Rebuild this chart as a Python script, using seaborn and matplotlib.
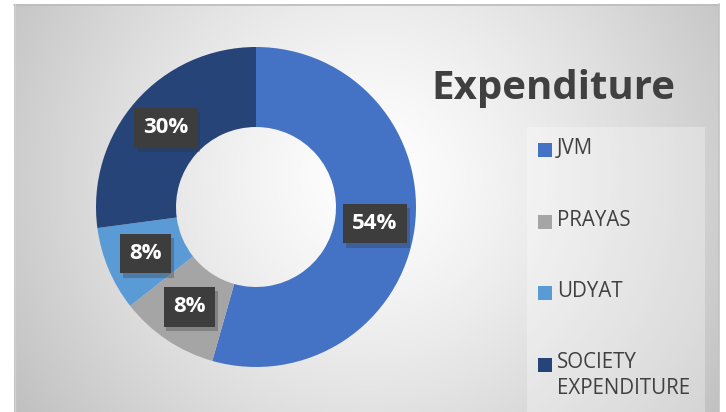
import numpy as np
import matplotlib.pyplot as plt
import matplotlib.patheffects as pe
from matplotlib.patches import Rectangle
import seaborn as sns

categories = ["JVM", "PRAYAS", "UDYAT", "SOCIETY\nEXPENDITURE"]
shares = [54.4, 10.0, 8.5, 27.1]
label_texts = ["54%", "8%", "8%", "30%"]
colors = sns.color_palette(["#4472C4", "#A5A5A5", "#5B9BD5", "#264478"])

sns.set_theme(style="white")
plt.rcParams['font.family'] = ['Open Sans', 'DejaVu Sans']

W, H = 726, 412
fig = plt.figure(figsize=(W / 100, H / 100), dpi=100)

# background panel with soft radial gradient
bg = fig.add_axes([0, 0, 1, 1])
yy, xx = np.mgrid[0:H, 0:W]
d = np.hypot(xx - 370, yy - 175) / 430
shade = 1 - 0.25 * np.clip(d, 0, 1) ** 1.3
rgb = np.dstack([shade] * 3)
rgb[:4, :, :] = 1
rgb[:, :14, :] = 1
rgb[:, 719:, :] = 1
bg.imshow(rgb, extent=(0, W, H, 0), aspect='auto', interpolation='bilinear')
bg.plot([14, 719], [4.5, 4.5], color='#bcbcbc', lw=1.2)
bg.plot([14.5, 14.5], [4, H], color='#d0d0d0', lw=1)
bg.plot([718.5, 718.5], [4, H], color='#c4c4c4', lw=1.2)
bg.set_xlim(0, W)
bg.set_ylim(H, 0)
bg.axis('off')

# legend panel
bg.add_patch(Rectangle((527, 127), 178, 300, facecolor='white', alpha=0.3,
                       edgecolor='none'))

# title
bg.text(431, 88, "Expenditure", fontsize=29, fontweight='bold',
        color='#404040', ha='left', va='center')

# legend entries
y0, step = 150, 71.5
for i, (name, col) in enumerate(zip(categories, colors)):
    yc = y0 + i * step
    bg.add_patch(Rectangle((538, yc - 7), 14, 14, facecolor=col, edgecolor='none'))
    bg.text(557, yc - 12, name, fontsize=14.8, color='#404040',
            ha='left', va='top', linespacing=1.25)

# donut
ax = fig.add_axes([(256 - 160) / W, (H - 207 - 160) / H, 320 / W, 320 / H])
wedges, texts, autotexts = ax.pie(
    shares, colors=colors, startangle=90, counterclock=False,
    wedgeprops=dict(width=0.5, edgecolor='none'),
    autopct='%d', pctdistance=0.75)
ax.set_xlim(-1, 1)
ax.set_ylim(-1, 1)
ax.set_aspect('equal')
ax.axis('off')

for t, s in zip(autotexts, label_texts):
    t.set_text(s)
    t.set_color('white')
    t.set_fontsize(16)
    t.set_fontweight('bold')
    t.set_bbox(dict(boxstyle='square,pad=0.42', facecolor='#3d3d3d',
                    edgecolor='none', linewidth=0))
    t.get_bbox_patch().set_path_effects(
        [pe.SimplePatchShadow(offset=(2, -3), alpha=0.3, shadow_rgbFace='#333333'),
         pe.Normal()])

fig.savefig("out.png", dpi=100)
